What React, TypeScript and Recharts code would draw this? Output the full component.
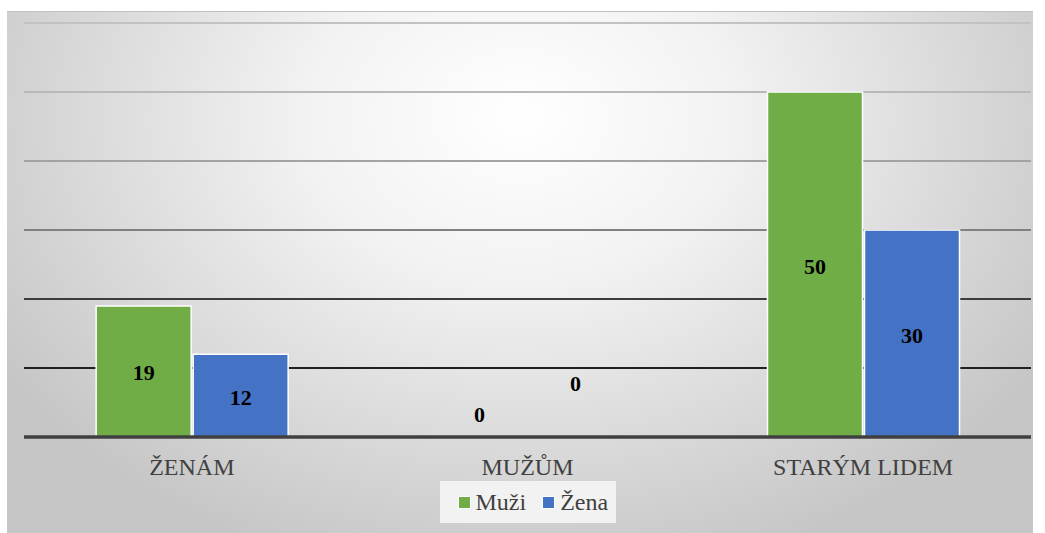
import { BarChart, Bar, XAxis, YAxis, CartesianGrid, ReferenceDot, Legend, LabelList } from 'recharts';

const categories = ['ŽENÁM', 'MUŽŮM', 'STARÝM LIDEM'];
const muzi = [19, 0, 50];
const zena = [12, 0, 30];
const yTicks = [0, 10, 20, 30, 40, 50, 60];

const data = categories.map((c, i) => ({ cat: c, muzi: muzi[i], zena: zena[i] }));

const SERIF = "'Liberation Serif', 'Times New Roman', serif";

const barLabel = (props: any) => {
  const { x, y, width, height, value } = props;
  if (!value) return null;
  return (
    <text x={x + width / 2} y={y + height / 2} dy={9} textAnchor="middle" style={{ fontFamily: SERIF }} fontWeight="bold" fontSize={22} fill="#000">
      {value}
    </text>
  );
};

// zero bars have no rectangle, so their labels hang off a dot at the baseline
const zeroLabel = (dx: number, lift: number) => (props: any) => {
  const { viewBox } = props;
  const cx = viewBox.x + viewBox.width / 2 + dx;
  const cy = viewBox.y + viewBox.height / 2 - lift;
  return (
    <text x={cx} y={cy} dy={8} textAnchor="middle" style={{ fontFamily: SERIF }} fontWeight="bold" fontSize={22} fill="#000">
      0
    </text>
  );
};

const legendContent = () => (
  <div style={{ display: 'flex', justifyContent: 'center', paddingTop: 8 }}>
    <div style={{ background: '#f2f2f2', height: 42, width: 176, boxSizing: 'border-box', paddingLeft: 18, display: 'flex', alignItems: 'center', fontFamily: SERIF, fontSize: 24, color: '#404040' }}>
      <span style={{ width: 11, height: 11, background: '#70ad47', border: '1px solid #fff', marginRight: 5 }} />
      <span style={{ marginRight: 16 }}>Muži</span>
      <span style={{ width: 11, height: 11, background: '#4472c4', border: '1px solid #fff', marginRight: 5 }} />
      <span>Žena</span>
    </div>
  </div>
);

export default function App() {
  return (
    <div style={{ position: 'absolute', left: 0, top: 0, width: 1045, height: 533, background: '#fff', fontFamily: SERIF }}>
      <div style={{
        position: 'absolute', left: 7, top: 11, width: 1026, height: 522,
        borderTop: '1px solid #c0c0c0',
        background: 'radial-gradient(ellipse 60% 90% at 50% 20%, #ffffff 0%, #f2f2f2 35%, #c6c6c6 100%)',
      }}>
        <BarChart width={1026} height={521} data={data} margin={{ top: 11, right: 2, left: 17, bottom: 8 }} barCategoryGap="21.5%" barGap={2} style={{ fontFamily: SERIF }}>
          <defs>
            <linearGradient id="gridGrad" gradientUnits="userSpaceOnUse" x1="0" y1="0" x2="0" y2="521">
              <stop offset="0.02" stopColor="#c2c2c2" />
              <stop offset="0.16" stopColor="#b8b8b8" />
              <stop offset="0.29" stopColor="#a2a2a2" />
              <stop offset="0.42" stopColor="#808080" />
              <stop offset="0.55" stopColor="#3c3c3c" />
              <stop offset="0.69" stopColor="#1e1e1e" />
            </linearGradient>
          </defs>
          <CartesianGrid vertical={false} stroke="url(#gridGrad)" strokeWidth={2} />
          <YAxis hide domain={[0, 60]} ticks={yTicks} />
          <XAxis
            dataKey="cat"
            axisLine={{ stroke: '#404040', strokeWidth: 3.5 }}
            tickLine={false}
            tick={{ fontFamily: SERIF, fontSize: 24, fill: '#404040' }}
            tickMargin={15}
            height={36}
          />
          <Legend verticalAlign="bottom" height={52} content={legendContent} />
          <Bar dataKey="muzi" name="Muži" fill="#70ad47" stroke="#fff" strokeWidth={1.5} isAnimationActive={false}>
            <LabelList dataKey="muzi" content={barLabel} />
          </Bar>
          <Bar dataKey="zena" name="Žena" fill="#4472c4" stroke="#fff" strokeWidth={1.5} isAnimationActive={false}>
            <LabelList dataKey="zena" content={barLabel} />
          </Bar>
          {categories.map((c, i) => muzi[i] === 0 ? (
            <ReferenceDot key={'m' + c} x={c} y={0} r={0} fill="none" stroke="none" label={zeroLabel(-48, 23)} />
          ) : null)}
          {categories.map((c, i) => zena[i] === 0 ? (
            <ReferenceDot key={'z' + c} x={c} y={0} r={0} fill="none" stroke="none" label={zeroLabel(48, 54)} />
          ) : null)}
        </BarChart>
      </div>
    </div>
  );
}
